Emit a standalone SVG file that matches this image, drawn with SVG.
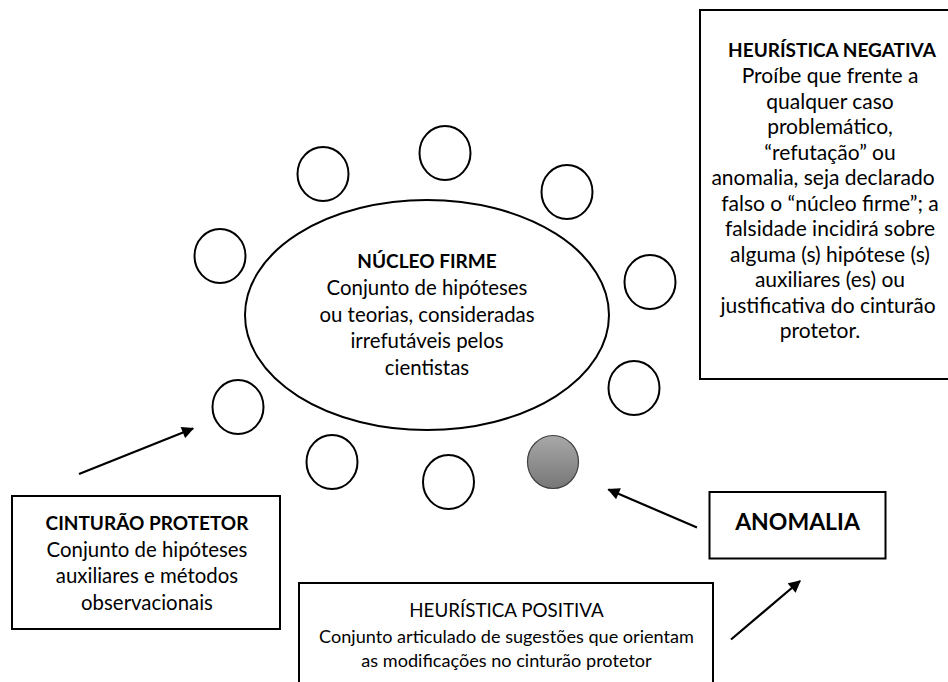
<svg xmlns="http://www.w3.org/2000/svg" width="948" height="682" viewBox="0 0 948 682">
<style>
text{font-family:Lato,"Open Sans","Liberation Sans",sans-serif;fill:#000;text-anchor:middle}
.b{font-weight:bold;font-size:19px}
.n{font-size:21px}
.e{font-size:20.4px}
.p{font-size:18.1px}
.box{fill:#fff;stroke:#000;stroke-width:2}
.c{fill:#fff;stroke:#000;stroke-width:2}
.ar{stroke:#000;stroke-width:2.2;fill:none}
</style>
<defs>
<linearGradient id="g" x1="0" y1="0" x2="0" y2="1">
<stop offset="0" stop-color="#a8a8a8"/>
<stop offset="1" stop-color="#777"/>
</linearGradient>
<marker id="ah" viewBox="0 0 10 10" refX="9" refY="5" markerWidth="6" markerHeight="5.5" markerUnits="strokeWidth" orient="auto">
<path d="M0,0 L10,5 L0,10 z" fill="#000"/>
</marker>
</defs>
<g id="heuristica-negativa">
<rect class="box" x="700" y="10" width="260" height="369"/>
<text class="b" x="832" y="57">HEURÍSTICA NEGATIVA</text>
<text class="n" x="830" y="83">Proíbe que frente a</text>
<text class="n" x="830" y="108.5">qualquer caso</text>
<text class="n" x="830" y="134">problemático,</text>
<text class="n" x="830" y="159.5">“refutação” ou</text>
<text class="n" x="823" y="185">anomalia, seja declarado</text>
<text class="n" x="830" y="210.5">falso o “núcleo firme”; a</text>
<text class="n" x="830" y="236">falsidade incidirá sobre</text>
<text class="n" x="830" y="261.5">alguma (s) hipótese (s)</text>
<text class="n" x="830" y="287">auxiliares (es) ou</text>
<text class="n" x="828" y="312.5">justificativa do cinturão</text>
<text class="n" x="820" y="338">protetor.</text>
</g>
<g id="nucleo-firme">
<ellipse class="c" cx="427" cy="315" rx="182" ry="115"/>
<text class="b" x="427" y="268">NÚCLEO FIRME</text>
<text class="e" x="427" y="295">Conjunto de hipóteses</text>
<text class="e" x="427" y="321.5">ou teorias, consideradas</text>
<text class="e" x="427" y="348">irrefutáveis pelos</text>
<text class="e" x="427" y="375">cientistas</text>
</g>
<g id="circulos">
<ellipse class="c" cx="323" cy="174" rx="25.5" ry="27"/>
<ellipse class="c" cx="445" cy="153" rx="25.5" ry="27"/>
<ellipse class="c" cx="567" cy="192" rx="25.5" ry="27"/>
<ellipse class="c" cx="220" cy="256" rx="25.5" ry="27"/>
<ellipse class="c" cx="650" cy="282" rx="25.5" ry="27"/>
<ellipse class="c" cx="634" cy="388" rx="25.5" ry="27"/>
<ellipse class="c" cx="238" cy="407" rx="25.5" ry="27"/>
<ellipse class="c" cx="332" cy="462" rx="25.5" ry="27"/>
<ellipse class="c" cx="448.5" cy="482" rx="25.5" ry="27"/>
</g>
<g id="anomalia-circulo">
<ellipse cx="553" cy="462" rx="25.5" ry="26.5" fill="url(#g)" stroke="#404040" stroke-width="1.2"/>
</g>
<g id="cinturao-protetor">
<rect class="box" x="12" y="496" width="268" height="133"/>
<text class="b" x="147" y="530">CINTURÃO PROTETOR</text>
<text class="e" x="147" y="556.5">Conjunto de hipóteses</text>
<text class="e" x="147" y="583">auxiliares e métodos</text>
<text class="e" x="147" y="609.5">observacionais</text>
</g>
<g id="anomalia">
<rect class="box" x="709.5" y="492" width="176" height="66.5"/>
<text x="797.5" y="530" style="font-size:23px;font-weight:bold">ANOMALIA</text>
</g>
<g id="heuristica-positiva">
<rect class="box" x="299" y="583" width="414" height="120"/>
<text x="506.5" y="617" style="font-size:18.8px">HEURÍSTICA POSITIVA</text>
<text class="p" x="506.5" y="643">Conjunto articulado de sugestões que orientam</text>
<text class="p" x="506.5" y="667">as modificações no cinturão protetor</text>
</g>
<g id="conectores">
<line class="ar" x1="79" y1="474" x2="193" y2="428.5" marker-end="url(#ah)"/>
<line class="ar" x1="697" y1="527.5" x2="608.5" y2="489.5" marker-end="url(#ah)"/>
<line class="ar" x1="731" y1="639.5" x2="800" y2="581" marker-end="url(#ah)"/>
</g>
</svg>
